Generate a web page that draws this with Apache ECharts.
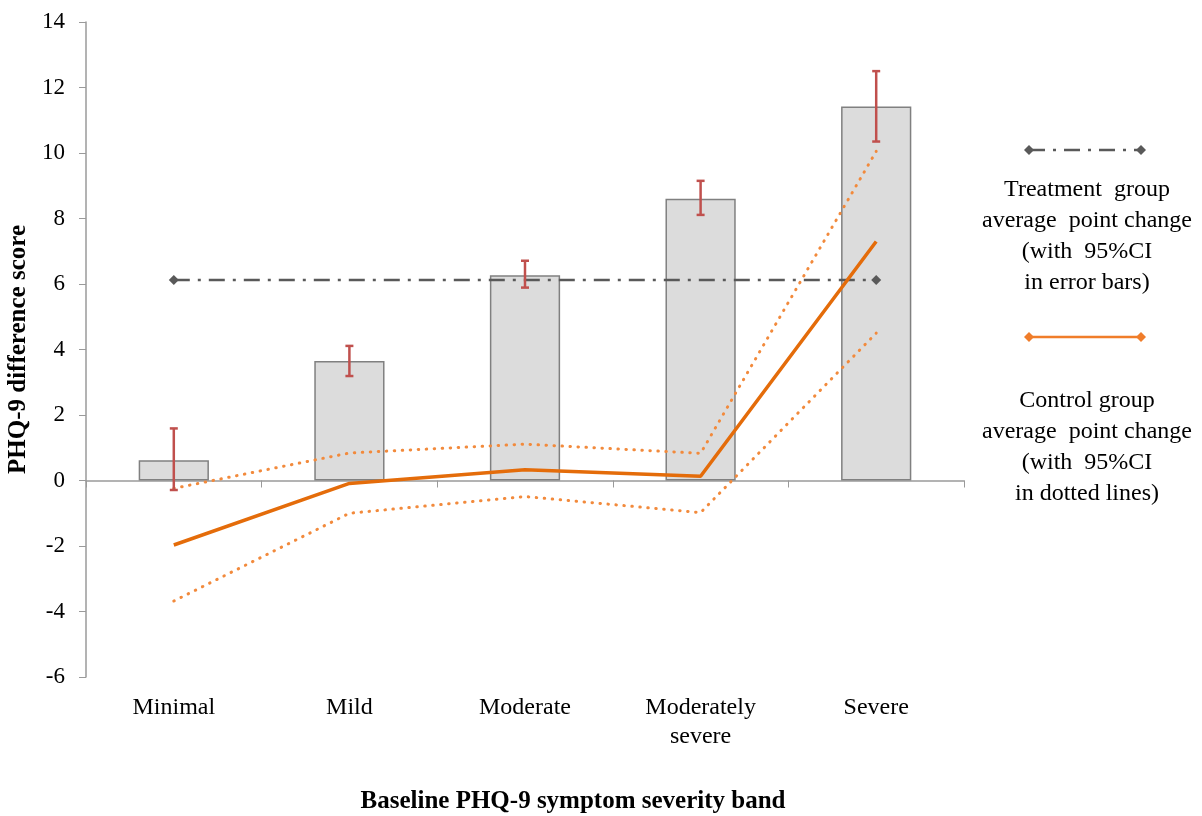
<!DOCTYPE html>
<html>
<head>
<meta charset="utf-8">
<script src="https://cdn.jsdelivr.net/npm/echarts@6/dist/echarts.min.js"></script>
<style>
  html, body { margin: 0; padding: 0; background: #fff; }
  #chart { width: 1202px; height: 816px; }
</style>
</head>
<body>
<div id="chart"></div>
<script>
// Severity bands on the x axis
var categories = ['Minimal', 'Mild', 'Moderate', 'Moderately\nsevere', 'Severe'];
// Treatment group mean change per band, with 95% CI
var treatmentMean = [0.62, 3.65, 6.27, 8.6, 11.42];
var treatmentLow  = [-0.29, 3.19, 5.89, 8.11, 10.35];
var treatmentHigh = [1.59, 4.11, 6.71, 9.15, 12.5];
// Treatment group overall average change
var treatmentOverall = [6.12, null, null, null, 6.12];
// Control group mean change per band, with 95% CI
var controlMean = [-1.97, -0.09, 0.33, 0.13, 7.3];
var controlLow  = [-3.68, -1.0, -0.49, -0.98, 4.5];
var controlHigh = [-0.24, 0.84, 1.11, 0.83, 10.05];
// Y axis range and step
var yMin = -6, yMax = 14, yStep = 2;

var serif = '"Liberation Serif", "DejaVu Serif", serif';
var orange = '#e46c0a';
var lightOrange = '#f28a3c';
var red = '#c0504d';

var chart = echarts.init(document.getElementById('chart'));

var errorData = categories.map(function (c, i) { return [i, treatmentLow[i], treatmentHigh[i]]; });

function legendEntry(y, color, dash, textTop, lines) {
  var items = [
    { type: 'line', shape: { x1: 1029, y1: y, x2: 1141, y2: y },
      style: { stroke: color, lineWidth: 2.5, lineDash: dash } },
    { type: 'polygon', shape: { points: [[1024, y], [1029, y - 5], [1034, y], [1029, y + 5]] }, style: { fill: color } },
    { type: 'polygon', shape: { points: [[1136, y], [1141, y - 5], [1146, y], [1141, y + 5]] }, style: { fill: color } }
  ];
  lines.forEach(function (t, k) {
    items.push({ type: 'text', x: 1087, y: textTop + k * 31,
      style: { text: t, font: '24px ' + serif, fill: '#000', align: 'center', verticalAlign: 'middle' } });
  });
  return items;
}

var option = {
  animation: false,
  backgroundColor: '#fff',
  grid: { left: 86, right: 238, top: 22, bottom: 139, containLabel: false, outerBoundsMode: 'none' },
  xAxis: [
    {
      type: 'category', data: categories,
      axisLine: { onZero: true, lineStyle: { color: '#9a9a9a', width: 1.5 } },
      axisTick: { show: true, inside: false, length: 7, lineStyle: { color: '#9a9a9a' } },
      axisLabel: { show: false }
    },
    {
      type: 'category', data: categories, position: 'bottom', offset: 0,
      axisLine: { show: false }, axisTick: { show: false },
      axisLabel: { color: '#000', fontFamily: serif, fontSize: 24, lineHeight: 29, margin: 16 },
      name: 'Baseline PHQ-9 symptom severity band', nameLocation: 'middle', nameGap: 112,
      nameTextStyle: { color: '#000', fontFamily: serif, fontSize: 25, fontWeight: 'bold', padding: [0, 0, 0, 96] }
    }
  ],
  yAxis: {
    type: 'value', min: yMin, max: yMax, interval: yStep,
    axisLine: { show: true, lineStyle: { color: '#9a9a9a', width: 1.5 } },
    axisTick: { show: true, length: 7, lineStyle: { color: '#9a9a9a' } },
    splitLine: { show: false },
    axisLabel: { color: '#000', fontFamily: serif, fontSize: 23, margin: 21 },
    name: 'PHQ-9 difference score', nameLocation: 'middle', nameGap: 54, nameRotate: 90,
    nameTextStyle: { color: '#000', fontFamily: serif, fontSize: 25, fontWeight: 'bold' }
  },
  series: [
    {
      name: 'Treatment', type: 'bar', data: treatmentMean, barWidth: '40%', z: 1,
      itemStyle: { color: '#dcdcdc', borderColor: '#808080', borderWidth: 1.5 }
    },
    {
      name: 'Treatment average', type: 'line', data: treatmentOverall, connectNulls: true, z: 3,
      symbol: 'diamond', symbolSize: 10, showSymbol: true,
      itemStyle: { color: '#595959' },
      lineStyle: { color: '#595959', width: 2.5, type: [16, 8, 3, 8] }
    },
    {
      name: 'Control upper', type: 'line', data: controlHigh, symbol: 'none', z: 4,
      lineStyle: { color: lightOrange, width: 3, type: [0.5, 7.5], cap: 'round' }
    },
    {
      name: 'Control lower', type: 'line', data: controlLow, symbol: 'none', z: 4,
      lineStyle: { color: lightOrange, width: 3, type: [0.5, 7.5], cap: 'round' }
    },
    {
      name: 'Control', type: 'line', data: controlMean, symbol: 'none', z: 5,
      lineStyle: { color: orange, width: 3.5 }
    },
    {
      name: 'Treatment CI', type: 'custom', data: errorData, z: 6,
      renderItem: function (params, api) {
        var lo = api.coord([api.value(0), api.value(1)]);
        var hi = api.coord([api.value(0), api.value(2)]);
        var w = 4;
        var st = { stroke: red, lineWidth: 2.5, fill: null };
        return { type: 'group', children: [
          { type: 'line', shape: { x1: hi[0], y1: hi[1], x2: lo[0], y2: lo[1] }, style: st },
          { type: 'line', shape: { x1: hi[0] - w, y1: hi[1], x2: hi[0] + w, y2: hi[1] }, style: st },
          { type: 'line', shape: { x1: lo[0] - w, y1: lo[1], x2: lo[0] + w, y2: lo[1] }, style: st }
        ] };
      }
    }
  ],
  graphic: legendEntry(150, '#595959', [16, 8, 3, 8], 190,
      ['Treatment  group', 'average  point change', '(with  95%CI', 'in error bars)'])
    .concat(legendEntry(337, '#f07d2a', null, 401,
      ['Control group', 'average  point change', '(with  95%CI', 'in dotted lines)']))
};

chart.setOption(option);
</script>
</body>
</html>
